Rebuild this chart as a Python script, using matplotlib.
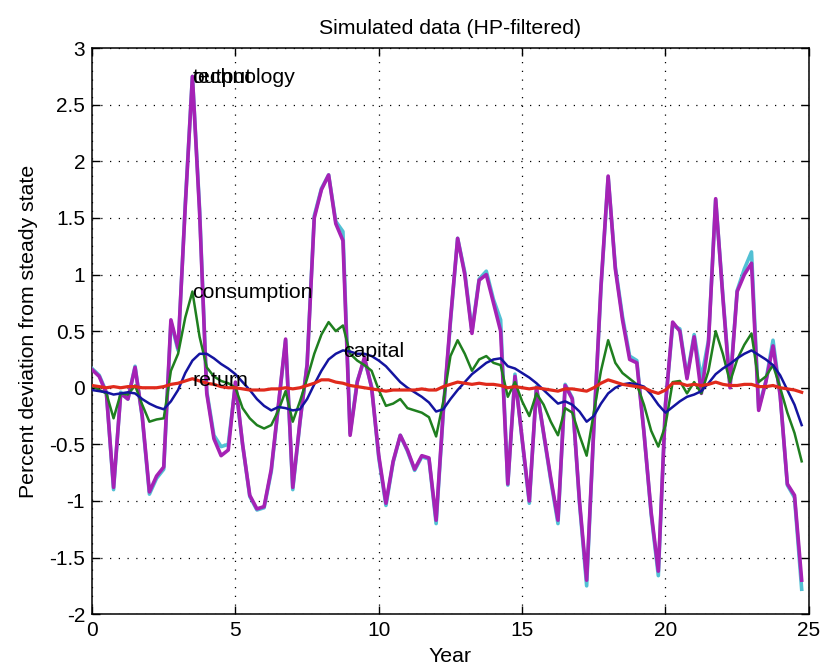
"""Simulated RBC data (HP-filtered), percent deviation from steady state."""

import numpy as np
import matplotlib
matplotlib.use("Agg")
import matplotlib.pyplot as plt

# quarterly observations, 25 years
years = np.arange(100) / 4

technology = [
    0.17, 0.11, -0.04, -0.90, -0.04, -0.10, 0.19, -0.26, -0.94, -0.80,
    -0.72, 0.58, 0.33, 1.62, 2.75, 1.58, -0.03, -0.42, -0.52, -0.50,
    0.03, -0.50, -0.96, -1.08, -1.06, -0.74, -0.16, 0.42, -0.90, -0.31,
    0.21, 1.52, 1.76, 1.88, 1.47, 1.38, -0.40, 0.06, 0.25, 0.01,
    -0.62, -1.04, -0.66, -0.42, -0.56, -0.73, -0.61, -0.63, -1.20, -0.22,
    0.58, 1.32, 1.02, 0.50, 0.96, 1.03, 0.78, 0.60, -0.86, 0.12,
    -0.46, -1.02, 0.01, -0.41, -0.82, -1.20, 0.03, -0.09, -1.02, -1.75,
    -0.36, 0.88, 1.86, 1.07, 0.63, 0.28, 0.24, -0.39, -1.12, -1.66,
    -0.14, 0.55, 0.52, 0.10, 0.47, 0.08, 0.42, 1.66, 0.82, 0.02,
    0.86, 1.05, 1.20, -0.18, 0.06, 0.42, -0.06, -0.86, -0.97, -1.78,
]
output = [
    0.16, 0.10, -0.05, -0.88, -0.05, -0.10, 0.18, -0.25, -0.92, -0.78,
    -0.70, 0.60, 0.35, 1.60, 2.75, 1.55, -0.05, -0.45, -0.60, -0.55,
    0.05, -0.50, -0.95, -1.07, -1.05, -0.72, -0.15, 0.43, -0.88, -0.30,
    0.20, 1.50, 1.75, 1.88, 1.45, 1.30, -0.42, 0.05, 0.27, 0.00,
    -0.60, -1.02, -0.65, -0.42, -0.55, -0.72, -0.60, -0.62, -1.17, -0.20,
    0.60, 1.32, 1.00, 0.48, 0.95, 1.00, 0.75, 0.50, -0.85, 0.10,
    -0.45, -1.00, 0.00, -0.40, -0.80, -1.17, 0.02, -0.10, -1.00, -1.70,
    -0.35, 0.90, 1.87, 1.05, 0.60, 0.25, 0.22, -0.40, -1.10, -1.62,
    -0.15, 0.58, 0.50, 0.08, 0.45, -0.05, 0.40, 1.67, 0.80, 0.00,
    0.85, 1.00, 1.10, -0.20, 0.05, 0.37, -0.07, -0.85, -0.95, -1.70,
]
consumption = [
    0.02, -0.02, -0.05, -0.27, -0.05, -0.06, 0.02, -0.15, -0.30, -0.28,
    -0.27, 0.15, 0.30, 0.62, 0.85, 0.45, 0.18, 0.10, 0.06, 0.04,
    0.00, -0.18, -0.27, -0.33, -0.36, -0.33, -0.20, -0.03, -0.30, -0.12,
    0.08, 0.30, 0.47, 0.58, 0.50, 0.55, 0.30, 0.24, 0.20, 0.15,
    -0.02, -0.16, -0.14, -0.10, -0.18, -0.20, -0.22, -0.26, -0.43, -0.12,
    0.28, 0.42, 0.30, 0.15, 0.25, 0.28, 0.22, 0.20, -0.08, 0.05,
    -0.12, -0.25, -0.05, -0.15, -0.30, -0.42, -0.18, -0.22, -0.42, -0.60,
    -0.22, 0.15, 0.42, 0.22, 0.13, 0.08, 0.03, -0.15, -0.38, -0.52,
    -0.33, 0.05, 0.06, -0.05, 0.05, -0.05, 0.15, 0.50, 0.30, 0.05,
    0.25, 0.38, 0.48, 0.05, 0.10, 0.20, 0.00, -0.22, -0.40, -0.65,
]
capital = [
    -0.02, -0.03, -0.04, -0.06, -0.05, -0.04, -0.05, -0.10, -0.14, -0.17,
    -0.19, -0.12, -0.02, 0.13, 0.24, 0.30, 0.30, 0.26, 0.21, 0.17,
    0.12, 0.05, -0.02, -0.10, -0.16, -0.20, -0.17, -0.18, -0.20, -0.19,
    -0.10, 0.03, 0.15, 0.25, 0.30, 0.33, 0.32, 0.30, 0.30, 0.28,
    0.24, 0.19, 0.12, 0.05, 0.00, -0.04, -0.08, -0.13, -0.21, -0.19,
    -0.10, -0.02, 0.05, 0.12, 0.17, 0.22, 0.25, 0.26, 0.19, 0.17,
    0.13, 0.09, 0.04, -0.02, -0.08, -0.14, -0.12, -0.15, -0.21, -0.30,
    -0.25, -0.14, -0.05, 0.00, 0.03, 0.04, 0.03, 0.01, -0.06, -0.15,
    -0.22, -0.17, -0.12, -0.08, -0.06, -0.03, 0.04, 0.12, 0.17, 0.21,
    0.26, 0.30, 0.33, 0.29, 0.25, 0.20, 0.11, -0.02, -0.15, -0.33,
]
ret = [
    0.02, 0.01, 0.00, 0.01, 0.00, 0.01, 0.01, 0.00, 0.00, 0.00,
    0.01, 0.03, 0.04, 0.06, 0.08, 0.06, 0.04, 0.03, 0.01, 0.00,
    0.00, -0.01, -0.02, -0.02, -0.02, -0.01, -0.01, 0.00, -0.01, 0.00,
    0.02, 0.04, 0.07, 0.07, 0.05, 0.04, 0.02, 0.01, 0.00, -0.01,
    -0.02, -0.03, -0.02, -0.02, -0.02, -0.02, -0.01, -0.02, -0.02, 0.01,
    0.03, 0.05, 0.04, 0.03, 0.04, 0.03, 0.03, 0.02, 0.00, 0.01,
    0.00, -0.01, 0.00, -0.01, -0.02, -0.03, -0.01, -0.01, -0.02, -0.03,
    0.00, 0.04, 0.07, 0.05, 0.03, 0.02, 0.01, 0.00, -0.03, -0.05,
    -0.02, 0.04, 0.04, 0.02, 0.03, 0.02, 0.03, 0.05, 0.03, 0.02,
    0.02, 0.03, 0.03, 0.01, 0.01, 0.02, 0.00, -0.01, -0.02, -0.04,
]

series = [
    ("technology", technology, "#52C0D4", 2.6),
    ("output", output, "#A522B5", 2.6),
    ("consumption", consumption, "#1F7F1F", 1.8),
    ("capital", capital, "#1414A0", 1.8),
    ("return", ret, "#E02A1C", 2.3),
]

plt.rcParams["font.family"] = ["Liberation Sans", "DejaVu Sans"]
plt.rcParams["axes.unicode_minus"] = False

fig = plt.figure(figsize=(8.22, 6.69), dpi=100)
ax = fig.add_axes([0.112, 0.082, 0.872, 0.846])

for name, vals, color, lw in series:
    ax.plot(years, vals, color=color, linewidth=lw, zorder=3)

# label each series at its peak, like text(x, max(y), name) in matlab
# (technology and output peak at the same point, so they overprint)
for name, vals, color, lw in series:
    i = int(np.argmax(vals))
    ax.text(years[i], vals[i], name, ha="left", va="baseline",
            fontsize=15.3, color="black", zorder=4,
            transform=ax.transData + matplotlib.transforms.ScaledTranslation(
                0, -5 / 72, fig.dpi_scale_trans))

ax.set_xlim(0, 25)
ax.set_ylim(-2, 3)
ax.set_xticks(np.arange(0, 26, 5))
ax.set_yticks(np.arange(-2, 3.01, 0.5))
ax.set_yticklabels(["-2", "-1.5", "-1", "-0.5", "0", "0.5", "1", "1.5",
                    "2", "2.5", "3"])
ax.grid(True, color="black", linestyle=(0, (1, 6)), linewidth=0.9)
ax.tick_params(direction="in", length=6, width=1, top=True, right=True,
               labelsize=15, pad=5)
for sp in ax.spines.values():
    sp.set_linewidth(1.1)

ax.set_title("Simulated data (HP-filtered)", fontsize=15.3, pad=10)
ax.set_xlabel("Year", fontsize=15.3, labelpad=5)
ax.set_ylabel("Percent deviation from steady state", fontsize=15.3,
              labelpad=8)

fig.savefig("out.png", dpi=100)
